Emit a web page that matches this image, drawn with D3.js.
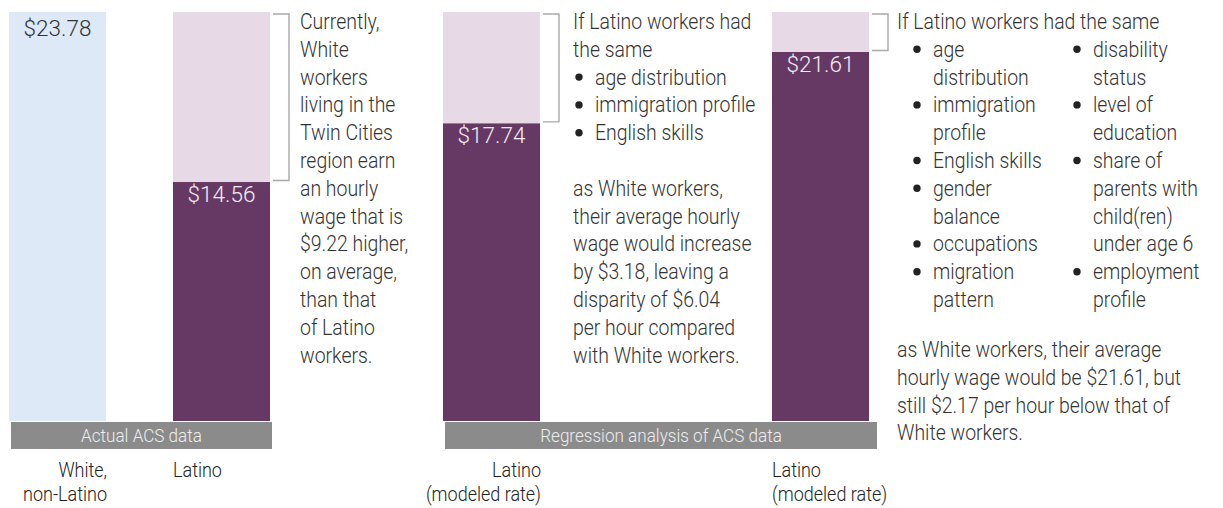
<!DOCTYPE html>
<html><head><meta charset="utf-8">
<script src="https://cdn.jsdelivr.net/npm/d3@7"></script>
<style>
html,body{margin:0;padding:0;background:#fff;}
svg{display:block;}
text{font-family:Roboto,"Liberation Sans",Arial,sans-serif;font-weight:300;}
</style></head><body>
<svg id="chart" width="1223" height="508"></svg>
<script>
// ---------- data ----------
const categories = ["White, non-Latino", "Latino", "Latino (modeled rate, 3 factors)", "Latino (modeled rate, 10 factors)"];
const wages = [23.78, 14.56, 17.74, 21.61];
const valueLabels = ["$23.78", "$14.56", "$17.74", "$21.61"];
const categoryLines = [["White,", "non-Latino"], ["Latino"], ["Latino", "(modeled rate)"], ["Latino", "(modeled rate)"]];
const groupLabels = ["Actual ACS data", "Regression analysis of ACS data"];
const groupMembers = [[0, 1], [2, 3]];
const whiteWage = 23.78;

const note1Lines = ["Currently,", "White", "workers", "living in the", "Twin Cities", "region earn", "an hourly", "wage that is", "$9.22 higher,", "on average,", "than that", "of Latino", "workers."];
const note2Intro = ["If Latino workers had", "the same"];
const note2Bullets = ["age distribution", "immigration profile", "English skills"];
const note2Para = ["as White workers,", "their average hourly", "wage would increase", "by $3.18, leaving a", "disparity of $6.04", "per hour compared", "with White workers."];
const note3Intro = ["If Latino workers had the same"];
const note3BulletsA = [["age", "distribution"], ["immigration", "profile"], ["English skills"], ["gender", "balance"], ["occupations"], ["migration", "pattern"]];
const note3BulletsB = [["disability", "status"], ["level of", "education"], ["share of", "parents with", "child(ren)", "under age 6"], ["employment", "profile"]];
const note3Para = ["as White workers, their average", "hourly wage would be $21.61, but", "still $2.17 per hour below that of", "White workers."];

// ---------- layout ----------
const svg = d3.select("#chart");
const barW = 97;
const x = d3.scaleOrdinal().domain(categories).range([9, 173, 443, 772]);
const y = d3.scaleLinear().domain([0, whiteWage]).range([450.5, 12]);
const colWhite = "#dde9f7", colGap = "#e7dae6", colLatino = "#663965";
const textCol = "#333333";
const bodySize = 21.6, squeeze = 0.9, lh = 27.8, firstBase = 29;

// condensed text helper
function ctext(px, py, str, size, fill, anchor) {
  return svg.append("text")
    .attr("transform", `translate(${px},${py}) scale(${squeeze},1)`)
    .attr("font-size", size).attr("fill", fill)
    .attr("text-anchor", anchor || "start").text(str);
}

// bars
categories.forEach((c, i) => {
  if (i === 0) {
    svg.append("rect").attr("x", x(c)).attr("width", barW)
      .attr("y", y(wages[i])).attr("height", y(0) - y(wages[i])).attr("fill", colWhite);
  } else {
    svg.append("rect").attr("x", x(c)).attr("width", barW)
      .attr("y", y(whiteWage)).attr("height", y(wages[i]) - y(whiteWage)).attr("fill", colGap);
    svg.append("rect").attr("x", x(c)).attr("width", barW)
      .attr("y", y(wages[i])).attr("height", y(0) - y(wages[i])).attr("fill", colLatino);
  }
});

// value labels
categories.forEach((c, i) => {
  svg.append("text").attr("x", x(c) + barW / 2)
    .attr("y", y(wages[i]) + (i === 0 ? 24 : 20))
    .attr("text-anchor", "middle").attr("font-size", 22.5)
    .attr("fill", i === 0 ? textCol : "#f3eef3").text(valueLabels[i]);
});

// mask below bars + group bands
svg.append("rect").attr("x", 0).attr("y", 421).attr("width", 1223).attr("height", 40).attr("fill", "#fff");
groupMembers.forEach((m, g) => {
  const x0 = x(categories[m[0]]) + 2, x1 = x(categories[m[1]]) + barW + (g === 0 ? 2 : 8);
  svg.append("rect").attr("x", x0).attr("y", 422).attr("width", x1 - x0).attr("height", 27).attr("fill", "#8b8b8b");
  ctext((x0 + x1) / 2, 442, groupLabels[g], 19, "#eeeeee", "middle");
});

// category labels (alternating alignment)
categories.forEach((c, i) => {
  const right = (i % 2 === 0);
  categoryLines[i].forEach((ln, k) =>
    ctext(right ? x(c) + barW + 1 : x(c), 476.5 + k * 24.5, ln, 20, "#222", right ? "end" : "start"));
});

// brackets
[1, 2, 3].forEach(i => {
  const bx = x(categories[i]) + barW;
  const yt = y(whiteWage) + 2, yb = y(wages[i]) - 1.5;
  svg.append("path").attr("d", `M${bx + 3},${yt}H${bx + 19}V${yb}H${bx + 3}`)
    .attr("fill", "none").attr("stroke", "#a9a9a9").attr("stroke-width", 1.4);
});

function lineY(k) { return firstBase + k * lh; }
function addLines(lines, x0, k0) {
  lines.forEach((ln, k) => ctext(x0, lineY(k0 + k), ln, bodySize, textCol));
}
function bullet(cx, k) {
  svg.append("circle").attr("cx", cx).attr("cy", lineY(k) - 7.5).attr("r", 3.7).attr("fill", "#222");
}

// note 1
const n1x = x(categories[1]) + barW + 30;
addLines(note1Lines, n1x, 0);

// note 2
const n2x = x(categories[2]) + barW + 33;
addLines(note2Intro, n2x, 0);
note2Bullets.forEach((b, k) => { bullet(n2x + 6, 2 + k); addLines([b], n2x + 22, 2 + k); });
addLines(note2Para, n2x, 6);

// note 3
const n3x = x(categories[3]) + barW + 28;
addLines(note3Intro, n3x, 0);
let k = 1;
note3BulletsA.forEach(b => { bullet(n3x + 20, k); addLines(b, n3x + 36, k); k += b.length; });
k = 1;
note3BulletsB.forEach(b => { bullet(n3x + 180, k); addLines(b, n3x + 196, k); k += b.length; });
addLines(note3Para, n3x, 11.8);
</script>
</body></html>
